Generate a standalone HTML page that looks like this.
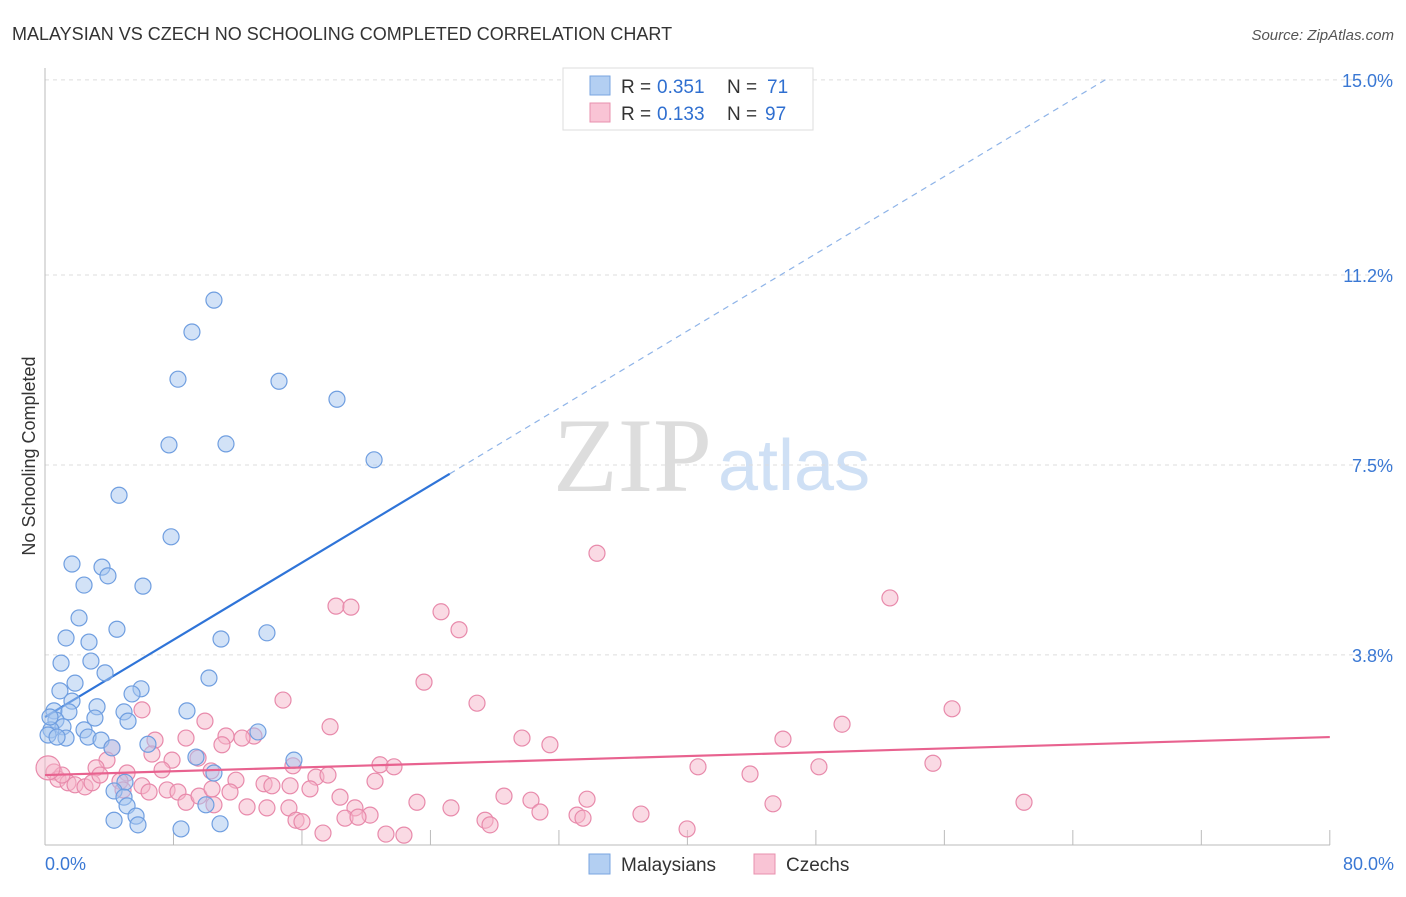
<!DOCTYPE html>
<html><head><meta charset="utf-8"><style>
body{margin:0;background:#fff;font-family:"Liberation Sans",sans-serif}
svg text{font-family:"Liberation Sans",sans-serif}
</style></head><body>
<svg id="chart" width="1406" height="892" xmlns="http://www.w3.org/2000/svg">
<text x="12" y="40" font-size="18" fill="#333">MALAYSIAN VS CZECH NO SCHOOLING COMPLETED CORRELATION CHART</text>
<text x="1394" y="40" font-size="15" fill="#555" text-anchor="end" font-style="italic">Source: ZipAtlas.com</text>
<text x="35" y="456" font-size="18" fill="#333" transform="rotate(-90 35 456)" text-anchor="middle">No Schooling Completed</text>
<g>
<text x="553" y="491" font-size="106" fill="#ddd" style="font-family:'Liberation Serif',serif">ZIP</text>
<text x="718" y="490" font-size="72" fill="#cfe0f5">atlas</text>
</g>
<g id="grid"></g><g id="axes"></g>
<line id="blueSolid" stroke="#2f74d8" stroke-width="2.2"/>
<line id="blueDash" stroke="#8fb4e8" stroke-width="1.2" stroke-dasharray="6 5"/>
<g id="pts"></g>
<line id="pinkLine" stroke="#e8628f" stroke-width="2.2"/>
<g>
<rect x="563" y="68" width="250" height="62" fill="#fff" stroke="#ddd"/>
<rect x="590" y="76" width="20" height="19" fill="#b3cff2" stroke="#7aa6e0"/>
<rect x="590" y="103" width="20" height="19" fill="#f9c4d5" stroke="#e890ae"/>
<text x="621" y="93" font-size="19" fill="#333">R =</text>
<text x="657" y="93" font-size="19" fill="#2f6fd0">0.351</text>
<text x="727" y="93" font-size="19" fill="#333">N =</text>
<text x="767" y="93" font-size="19" fill="#2f6fd0">71</text>
<text x="621" y="120" font-size="19" fill="#333">R =</text>
<text x="657" y="120" font-size="19" fill="#2f6fd0">0.133</text>
<text x="727" y="120" font-size="19" fill="#333">N =</text>
<text x="765" y="120" font-size="19" fill="#2f6fd0">97</text>
</g>
<g>
<rect x="589" y="854" width="21" height="20" fill="#b3cff2" stroke="#7aa6e0"/>
<text x="621" y="871" font-size="19" fill="#333">Malaysians</text>
<rect x="754" y="854" width="21" height="20" fill="#f9c4d5" stroke="#e890ae"/>
<text x="786" y="871" font-size="19" fill="#333">Czechs</text>
</g>
</svg>
<script>
const yTicks=[3.8,7.5,11.2,15.0];
const yTickLabels=["3.8%","7.5%","11.2%","15.0%"];
const xTicks=[8,16,24,32,40,48,56,64,72,80];
const xEndLabels=["0.0%","80.0%"];
const blueX=[10.52,9.15,8.28,14.57,18.18,7.72,11.27,20.49,4.61,7.85,1.68,3.55,3.92,2.43,6.10,2.12,4.48,1.31,13.82,10.96,2.74,1.00,2.86,3.74,10.21,1.87,0.93,5.98,5.42,1.68,3.24,0.56,1.49,4.92,8.84,3.11,5.17,0.68,1.12,2.43,13.26,1.31,2.68,3.49,6.41,4.17,9.40,0.37,15.50,10.52,4.98,4.30,4.92,5.11,10.02,5.67,4.30,5.79,8.47,10.90,0.31,0.19,0.75];
const blueY=[10.71,10.09,9.17,9.13,8.78,7.89,7.91,7.60,6.91,6.10,5.57,5.51,5.34,5.16,5.14,4.52,4.30,4.13,4.23,4.11,4.05,3.64,3.68,3.45,3.35,3.25,3.10,3.14,3.04,2.90,2.79,2.71,2.69,2.69,2.71,2.57,2.51,2.53,2.40,2.34,2.30,2.18,2.20,2.14,2.06,1.99,1.81,2.34,1.75,1.50,1.32,1.15,1.03,0.86,0.88,0.66,0.58,0.49,0.41,0.51,2.59,2.24,2.20];
const pinkX=[34.37,18.12,19.05,24.66,25.78,52.61,23.60,14.82,26.90,56.48,49.63,17.75,9.96,6.04,29.70,31.44,45.95,13.01,11.27,12.27,8.78,6.85,11.02,4.17,3.86,6.66,7.91,9.53,15.44,20.86,21.73,40.66,48.19,55.29,43.90,7.29,10.34,3.18,5.11,16.87,17.62,20.55,11.89,13.64,15.26,0.56,0.81,1.43,1.87,2.49,2.93,4.67,6.04,6.48,7.60,8.28,8.78,9.59,10.40,11.52,14.13,16.50,18.37,12.58,13.82,15.19,19.30,23.16,25.28,28.58,30.26,33.75,45.33,60.96,30.82,33.13,33.50,37.11,27.40,27.71,15.63,16.00,18.68,20.24,19.49,17.31,21.23,22.35,39.98,10.52,3.42,4.86,1.06,0.19];
const pinkY=[5.78,4.75,4.73,4.64,4.29,4.91,3.27,2.92,2.86,2.75,2.45,2.40,2.51,2.73,2.18,2.05,2.16,2.22,2.22,2.18,2.18,2.14,2.05,1.99,1.75,1.87,1.75,1.79,1.64,1.66,1.62,1.62,1.62,1.69,1.48,1.56,1.54,1.60,1.50,1.42,1.46,1.34,1.36,1.29,1.25,1.52,1.38,1.31,1.27,1.23,1.31,1.34,1.25,1.13,1.17,1.13,0.93,1.05,1.19,1.13,1.25,1.19,1.03,0.84,0.82,0.82,0.82,0.93,0.82,1.05,0.97,0.99,0.90,0.93,0.74,0.68,0.62,0.70,0.58,0.49,0.58,0.55,0.62,0.68,0.64,0.33,0.31,0.29,0.41,0.88,1.46,1.17,1.46,1.60];
const blueTrend=[2.59,0.188];
const pinkTrend=[1.46,0.00925];
const sx=v=>45+v*16.06, sy=v=>850-v*51.34;
const NS="http://www.w3.org/2000/svg";
function mk(t,a,p){const e=document.createElementNS(NS,t);for(const k in a)e.setAttribute(k,a[k]);p.appendChild(e);return e;}
const grid=document.getElementById('grid'),axes=document.getElementById('axes'),pts=document.getElementById('pts');
yTicks.forEach((v,i)=>{
 const l=mk('line',{x1:45,x2:1394,y1:sy(v),y2:sy(v),stroke:'#ddd','stroke-dasharray':'4 4'},grid);
 
 
 const t=mk('text',{x:1393,y:sy(v)+7,'font-size':18,fill:'#3a78d4','text-anchor':'end'},grid);
 t.textContent=yTickLabels[i];
 
 
});
const ya=mk('line',{x1:45,x2:45,y1:68,y2:845,stroke:'#bbb'},axes);


const xa=mk('line',{x1:45,x2:1330,y1:845,y2:845,stroke:'#bbb'},axes);


xTicks.forEach(v=>{
 const l=mk('line',{x1:sx(v),x2:sx(v),y1:830,y2:845,stroke:'#bbb'},axes);
 
 
});
[[0,'start',45],[80,'end',1394]].forEach((d,i)=>{
 const t=mk('text',{x:d[2],y:870,'font-size':18,fill:'#3a78d4','text-anchor':d[1]},axes);
 t.textContent=xEndLabels[i];
 
 
});
function dots(X,Y,fill,stroke,name,bigLast){X.forEach((x,i)=>{
 const r=(bigLast&&i===X.length-1)?12:8;
 const c=mk('circle',{cx:sx(x),cy:sy(Y[i]),r:r,fill:fill,'fill-opacity':0.5,stroke:stroke,'stroke-width':1.2},pts);
 
 
});}
dots(pinkX,pinkY,'#f6b5ca','#e88aab','czechs-point',true);
dots(blueX,blueY,'#a6c6f0','#6f9ee0','malaysians-point',false);
const bs=document.getElementById('blueSolid'),bd=document.getElementById('blueDash'),pl=document.getElementById('pinkLine');
const bY=x=>blueTrend[0]+blueTrend[1]*x, pY=x=>pinkTrend[0]+pinkTrend[1]*x;
const bEnd=(15.05-blueTrend[0])/blueTrend[1];
bs.setAttribute('x1',sx(0));bs.setAttribute('y1',sy(bY(0)));bs.setAttribute('x2',sx(25.2));bs.setAttribute('y2',sy(bY(25.2)));
bd.setAttribute('x1',sx(25.2));bd.setAttribute('y1',sy(bY(25.2)));bd.setAttribute('x2',sx(bEnd));bd.setAttribute('y2',sy(bY(bEnd)));
pl.setAttribute('x1',sx(0));pl.setAttribute('y1',sy(pY(0)));pl.setAttribute('x2',sx(80));pl.setAttribute('y2',sy(pY(80)));
</script>
</body></html>
